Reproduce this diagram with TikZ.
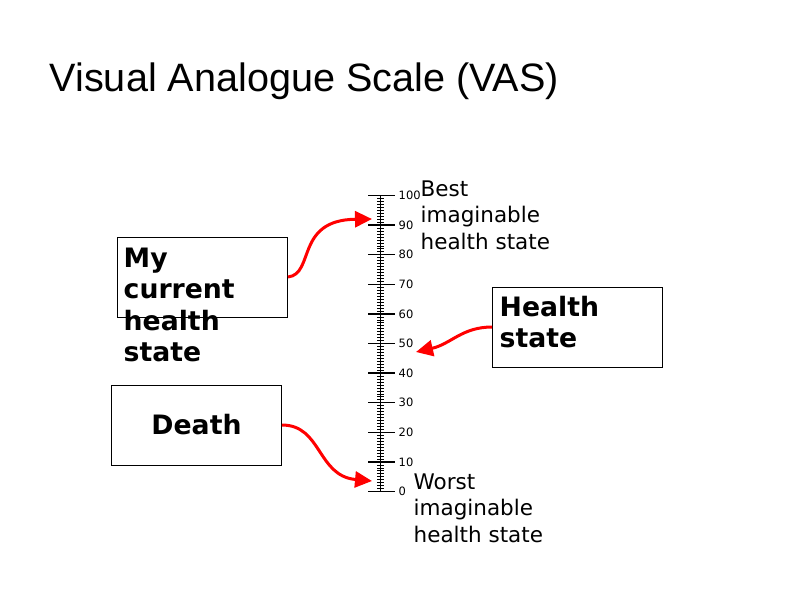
\documentclass[tikz,border=0pt]{standalone}
\usepackage{fontspec}
\setmainfont{DejaVu Sans}
\newfontfamily\titlefont{Liberation Sans}
\usepackage{tikz}
\usetikzlibrary{arrows.meta}
\usetikzlibrary{positioning}

\begin{document}
\begin{tikzpicture}[x=1pt,y=-1pt,>={Triangle[length=17pt,width=16pt]},
  box/.style={draw,line width=0.9pt,minimum width=170pt,minimum height=80pt,inner sep=0pt},
  boxtext/.style={font=\fontsize{26.7}{31.5}\selectfont\bfseries,align=left,inner sep=0pt,anchor=base west},
  endtext/.style={font=\fontsize{21.5}{26.5}\selectfont,align=left,inner sep=0pt,anchor=base west},
  pointer/.style={->,red,line width=3pt}]

  \useasboundingbox (0,0) rectangle (800,600);

  \node[font=\titlefont\fontsize{39.6}{47}\selectfont,anchor=base west,inner sep=0pt] (title) at (49.5,91) {Visual Analogue Scale (VAS)};

  % the scale
  \draw[line width=1pt] (380.5,195.5) -- (380.5,491.5);
  \foreach \v in {0,...,100}{
    \pgfmathsetmacro\ty{491.5-2.96*\v}
    \draw[line width=0.6pt] (377,\ty) -- (384,\ty);
  }
  \foreach \v in {0,10,...,100}{
    \pgfmathsetmacro\ty{491.5-2.96*\v}
    \draw[line width=1.3pt] (368,\ty) -- (395,\ty);
    \node[font=\fontsize{11.5}{13}\selectfont,anchor=west,inner sep=0pt] (n\v) at (398.5,\ty) {\v};
  }

  % base is the last line
  \node[endtext] (best) at (420.5,249) {Best\\imaginable\\health state};
  \node[endtext] (worst) at (413.5,542) {Worst\\imaginable\\health state};

  % boxes
  \node[box] (mine) at (202.5,277) {};
  \node[boxtext] (minetext) at (123.5,361.5) {My\\current\\health\\state};
  \node[box] (hs) at (577.5,327) {};
  \node[boxtext] (hstext) at (499.5,347.5) {Health\\state};
  \node[box,font=\fontsize{26.7}{31.5}\selectfont\bfseries] (death) at (196.5,425) {Death};

  \coordinate (top) at (372,219);
  \coordinate (mid) at (416,352);
  \coordinate (low) at (372,481);

  \draw[pointer] (mine.east) .. controls +(27,-3) and +(-77,1) .. (top);
  \draw[pointer] (hs.west) .. controls +(-30,0) and +(35,-8) .. (mid);
  \draw[pointer] (death.east) .. controls +(40,0) and +(-55,-5) .. (low);
\end{tikzpicture}
\end{document}
